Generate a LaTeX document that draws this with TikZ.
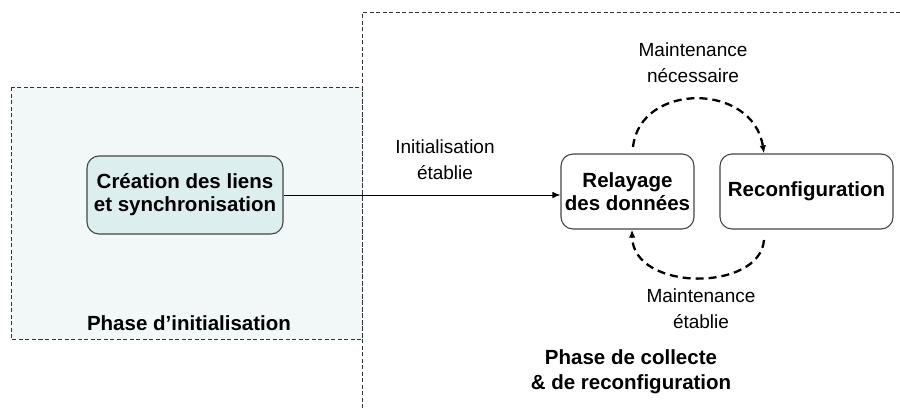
\documentclass[tikz,border=0pt]{standalone}
\usepackage{fontspec}
\setmainfont{Liberation Sans}
\usetikzlibrary{arrows.meta}
\definecolor{leftbg}{HTML}{F2F8F8}
\definecolor{crefill}{HTML}{DDEEEE}
\definecolor{frame}{HTML}{333333}
\definecolor{boxline}{HTML}{454545}
\tikzset{
  procbox/.style={draw=boxline, line width=1.1pt, rounded corners=12pt, align=center, inner sep=2pt,
    font=\fontsize{20.5}{23}\selectfont\bfseries},
  lbl/.style={align=center, font=\fontsize{19}{26}\selectfont},
  phase/.style={align=center, font=\fontsize{20.5}{25}\selectfont\bfseries},
  framedash/.style={draw=frame, line width=0.9pt, dash pattern=on 4pt off 2.5pt},
  dasharc/.style={line width=2.3pt, dash pattern=on 8pt off 5pt, -{Latex[length=8pt,width=6.5pt]}},
}
\begin{document}
\begin{tikzpicture}[x=1pt,y=-1pt]
\useasboundingbox (0,0) rectangle (900,408);
% left phase
\fill[leftbg] (11,87) rectangle (362,339);
\draw[framedash] (11,87) rectangle (362,339);
% right phase frame (open)
\draw[framedash] (362,408) -- (362,12.5) -- (900,12.5);
% nodes
\node[procbox, fill=crefill, minimum width=196pt, minimum height=78pt] (cre) at (185,195) {Création des liens\\et synchronisation};
\node[procbox, fill=white, minimum width=133pt, minimum height=75pt] (rel) at (627.5,191.5) {Relayage\\des données};
\node[procbox, fill=white, minimum width=173pt, minimum height=75pt] (rec) at (806.5,191.5) {Reconfiguration};
% labels
\node[phase] (ph1) at (189,323) {Phase d’initialisation};
\node[phase] (ph2) at (631,372) {Phase de collecte\\\& de reconfiguration};
\node[lbl] (l1) at (445,160) {Initialisation\\établie};
\node[lbl] (l2) at (693,63) {Maintenance\\nécessaire};
\node[lbl] (l3) at (701,309) {Maintenance\\établie};
% connectors
\draw[line width=1pt, -{Latex[length=8pt,width=6.5pt]}] (cre.east) -- (cre.east -| rel.west);
\coordinate (t1) at (633,147);
\coordinate (b1) at (764,240);
\draw[dasharc] (t1) .. controls (640,82) and (753,82) .. (rec.north -| 764,0);
\draw[dasharc] (b1) .. controls (760,292) and (633,292) .. (rel.south -| 632,0);
\end{tikzpicture}
\end{document}
